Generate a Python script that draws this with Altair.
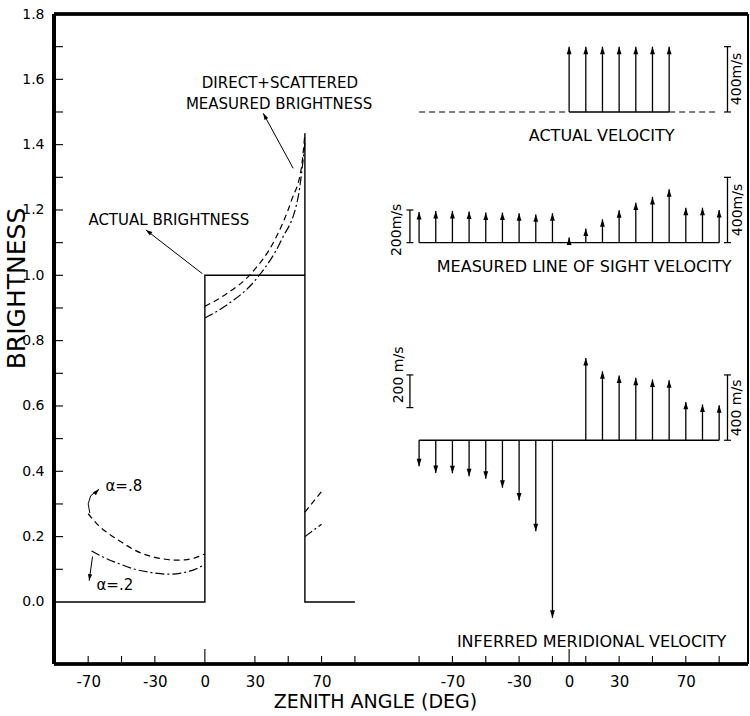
import altair as alt
import pandas as pd

# ---------------- data ----------------
# Left panel: brightness vs zenith angle
actual_angle = [-90, 0, 0, 60, 60, 60, 90]
actual_bright = [0.0, 0.0, 1.0, 1.0, 1.435, 0.0, 0.0]

# measured brightness, alpha = .8 (dashed)
a8_left_angle = [-70, -64, -58, -52, -45, -38, -31, -24, -18, -12, -6, 0]
a8_left = [0.27, 0.235, 0.21, 0.19, 0.167, 0.149, 0.138, 0.131, 0.128, 0.129, 0.135, 0.147]
a8_mid_angle = [0, 12, 28, 42, 52, 58, 60]
a8_mid = [0.905, 0.94, 1.007, 1.109, 1.23, 1.333, 1.435]
a8_right_angle = [60, 70]
a8_right = [0.275, 0.338]

# measured brightness, alpha = .2 (dash-dot)
a2_left_angle = [-68, -60, -52, -42, -32, -22, -8, 0]
a2_left = [0.156, 0.135, 0.118, 0.10, 0.09, 0.085, 0.096, 0.115]
a2_mid_angle = [0, 12, 32, 46, 56, 60]
a2_mid = [0.869, 0.905, 0.996, 1.109, 1.241, 1.405]
a2_right_angle = [60, 70]
a2_right = [0.20, 0.238]

# Right panel: velocities (m/s)
vel_actual_angle = [0, 10, 20, 30, 40, 50, 60]
vel_actual = [400, 400, 400, 400, 400, 400, 400]
vel_los_angle = [-90, -80, -70, -60, -50, -40, -30, -20, -10, 0, 10, 20, 30, 40, 50, 60, 70, 80, 90]
vel_los = [188, 194, 194, 190, 184, 184, 180, 173, 180, 31, 86, 143, 198, 245, 280, 327, 214, 214, 200]
vel_mer_angle = [-90, -80, -70, -60, -50, -40, -30, -20, -10, 10, 20, 30, 40, 50, 60, 70, 80, 90]
vel_mer = [-159, -200, -202, -220, -236, -291, -369, -557, -1087, 504, 422, 396, 382, 372, 367, 235, 219, 214]

panel_keys = ["actual", "los", "mer"]
panel_titles = ["ACTUAL VELOCITY", "MEASURED LINE OF SIGHT VELOCITY", "INFERRED MERIDIONAL VELOCITY"]
panel_base = [1.5, 1.1, 0.495]          # zero-velocity line of each panel (brightness units)
panel_title_angle = [19.5, 9, 13.5]
panel_title_y = [1.426, 1.026, -0.122]

# scale bars of the velocity panels
bar_angle = [95, 95, -95.5, 95, -95.5]
bar_bottom = [1.5, 1.1, 1.1, 0.495, 0.595]
bar_speed = [400, 400, 200, 400, 200]
bar_text = ["400m/s", "400m/s", "200m/s", "400 m/s", "200 m/s"]
bar_text_angle = [100.5, 101.5, -103, 100.7, -102]
bar_text_y = [1.601, 1.2, 1.139, 0.594, 0.695]

# axis ticks
y_labels = [0.0, 0.2, 0.4, 0.6, 0.8, 1.0, 1.2, 1.4, 1.6, 1.8]
y_minor = [0.1, 0.2, 0.3, 0.4, 0.5, 0.6, 0.7, 0.8, 0.9, 1.0, 1.1, 1.2, 1.3, 1.4, 1.5, 1.6, 1.7]
x_labels = [-70, -30, 0, 30, 70]
x_minor_left = [-70, -50, -30, 30, 50, 70, 90]
x_minor_right = [-90, -70, -50, -30, -10, 10, 30, 50, 70, 90]

# annotations
note_text = ["DIRECT+SCATTERED", "MEASURED BRIGHTNESS", "ACTUAL BRIGHTNESS", "\u03b1=.8", "\u03b1=.2"]
note_angle = [45, 44.5, -21.6, -48.6, -54]
note_y = [1.59, 1.524, 1.169, 0.355, 0.052]

ptr_id = ["act", "act", "meas", "meas", "a8", "a8", "a8", "a8", "a2", "a2"]
ptr_angle = [-1.5, -35.4, 53, 35.0, -69.0, -70.0, -68.5, -63.5, -67.4, -69.4]
ptr_y = [1.005, 1.139, 1.3275, 1.496, 0.272, 0.300, 0.325, 0.345, 0.139, 0.065]
head_angle = [-35.4, 35.0, -63.5, -69.4]
head_y = [1.139, 1.496, 0.345, 0.065]
head_rot = [306, 331, 45, 188]

# ---------------- layout helpers ----------------
SHIFT = 218.5        # right-hand panel is drawn on the same axis, shifted by this many degrees
MS_PER_UNIT = 2000   # 400 m/s bar = 0.2 brightness units
W, H = 694, 650
FONT = "DejaVu Sans"

xs = alt.Scale(domain=[-90.5, 325.8], zero=False, nice=False)
ys = alt.Scale(domain=[-0.19, 1.8], zero=False, nice=False)

x_axis = alt.Axis(
    values=x_labels + [v + SHIFT for v in x_labels],
    labelExpr=f"datum.value > 120 ? '' + round(datum.value - {SHIFT}) : '' + round(datum.value)",
    ticks=False, tickSize=0, domain=False, grid=False,
    labelFont=FONT, labelFontSize=15, labelColor="black", labelPadding=10,
    labelFlush=False, labelOverlap=False,
    title="ZENITH ANGLE (DEG)", titleFont=FONT, titleFontSize=19, titleFontWeight="normal",
    titleColor="black", titleX=321, titleY=37, titleAlign="center", titleBaseline="middle",
    titleAnchor="start",
)
y_axis = alt.Axis(
    values=y_labels, format=".1f",
    ticks=False, tickSize=0, domain=False, grid=False,
    labelFont=FONT, labelFontSize=14, labelColor="black", labelPadding=10, labelFlush=False,
    title="BRIGHTNESS", titleFont=FONT, titleFontSize=25, titleFontWeight="normal",
    titleColor="black", titleAngle=270, titleX=-38, titleY=274, titleAlign="center",
    titleBaseline="middle", titleAnchor="start",
)


def X(f="x"):
    return alt.X(f"{f}:Q", scale=xs, axis=x_axis)


def Y(f="y"):
    return alt.Y(f"{f}:Q", scale=ys, axis=y_axis)


# ---------------- tables ----------------
actual_df = pd.DataFrame({"x": actual_angle, "y": actual_bright, "o": range(len(actual_angle))})


def seg_df(pairs):
    rows = []
    for sid, (ang, val) in enumerate(pairs):
        for i, (a, v) in enumerate(zip(ang, val)):
            rows.append({"seg": sid, "o": i, "x": a, "y": v})
    return pd.DataFrame(rows)


a8_df = seg_df([(a8_left_angle, a8_left), (a8_mid_angle, a8_mid), (a8_right_angle, a8_right)])
a2_df = seg_df([(a2_left_angle, a2_left), (a2_mid_angle, a2_mid), (a2_right_angle, a2_right)])

arr_rows = []
for key, base, angs, vels in zip(panel_keys, panel_base,
                                 [vel_actual_angle, vel_los_angle, vel_mer_angle],
                                 [vel_actual, vel_los, vel_mer]):
    for a, v in zip(angs, vels):
        arr_rows.append({"panel": key, "x": a + SHIFT, "y": base, "y1": base + v / MS_PER_UNIT, "v": v})
arr_df = pd.DataFrame(arr_rows)
up_df = arr_df[arr_df.v > 0]
down_df = arr_df[arr_df.v < 0]

base_solid = pd.DataFrame({
    "x": [0 + SHIFT, -90 + SHIFT, -90 + SHIFT],
    "x2": [60 + SHIFT, 90 + SHIFT, 90 + SHIFT],
    "y": [panel_base[0], panel_base[1], panel_base[2]],
})
base_dash = pd.DataFrame({
    "x": [-90 + SHIFT, 60 + SHIFT],
    "x2": [0 + SHIFT, 90 + SHIFT],
    "y": [panel_base[0], panel_base[0]],
})

bar_df = pd.DataFrame({
    "x": [a + SHIFT for a in bar_angle],
    "y": bar_bottom,
    "y1": [b + s / MS_PER_UNIT for b, s in zip(bar_bottom, bar_speed)],
})
bar_caps = pd.DataFrame({
    "x": list(bar_df.x) * 2,
    "y": list(bar_df.y) + list(bar_df.y1),
})
bar_lab = pd.DataFrame({"x": [a + SHIFT for a in bar_text_angle], "y": bar_text_y, "t": bar_text})

title_df = pd.DataFrame({"x": [a + SHIFT for a in panel_title_angle], "y": panel_title_y, "t": panel_titles})
note_df = pd.DataFrame({"x": note_angle, "y": note_y, "t": note_text})
ptr_df = pd.DataFrame({"id": ptr_id, "x": ptr_angle, "y": ptr_y, "o": range(len(ptr_id))})
head_df = pd.DataFrame({"x": head_angle, "y": head_y, "r": head_rot})

xt_df = pd.DataFrame({"x": x_minor_left + [v + SHIFT for v in x_minor_right]})
xt_long = pd.DataFrame({"x": [0, SHIFT]})
yt_df = pd.DataFrame({"y": y_minor})

# ---------------- layers ----------------
UP_HEAD = "M0,0L-0.65,2L0.65,2Z"
DOWN_HEAD = "M0,0L-0.65,-2L0.65,-2Z"

actual_line = alt.Chart(actual_df).mark_line(color="black", strokeWidth=1.4).encode(
    x=X(), y=Y(), order="o:Q")

a8_line = alt.Chart(a8_df).mark_line(color="black", strokeWidth=1.2, strokeDash=[6, 4],
                                     interpolate="monotone").encode(
    x=X(), y=Y(), detail="seg:N", order="o:Q")
a2_line = alt.Chart(a2_df).mark_line(color="black", strokeWidth=1.2, strokeDash=[9, 3, 2, 3],
                                     interpolate="monotone").encode(
    x=X(), y=Y(), detail="seg:N", order="o:Q")

shafts = alt.Chart(arr_df).mark_rule(color="black", strokeWidth=1.3).encode(
    x=X(), y=Y(), y2="y1:Q")
up_heads = alt.Chart(up_df).mark_point(shape=UP_HEAD, size=56, filled=True, color="black",
                                       opacity=1).encode(x=X(), y=Y("y1"))
down_heads = alt.Chart(down_df).mark_point(shape=DOWN_HEAD, size=56, filled=True, color="black",
                                           opacity=1).encode(x=X(), y=Y("y1"))

bl_solid = alt.Chart(base_solid).mark_rule(color="black", strokeWidth=1.4).encode(
    x=X(), x2="x2:Q", y=Y())
bl_dash = alt.Chart(base_dash).mark_rule(color="black", strokeWidth=1.2, strokeDash=[6, 4]).encode(
    x=X(), x2="x2:Q", y=Y())

bars = alt.Chart(bar_df).mark_rule(color="black", strokeWidth=1.3).encode(x=X(), y=Y(), y2="y1:Q")
caps = alt.Chart(bar_caps).mark_tick(orient="horizontal", size=7, thickness=1.2, color="black",
                                     opacity=1).encode(x=X(), y=Y())
bar_text_l = alt.Chart(bar_lab).mark_text(font=FONT, fontSize=14, angle=270, color="black",
                                          baseline="middle", align="center").encode(
    x=X(), y=Y(), text="t:N")

titles = alt.Chart(title_df).mark_text(font=FONT, fontSize=16, color="black",
                                       baseline="middle", align="center").encode(
    x=X(), y=Y(), text="t:N")
notes = alt.Chart(note_df).mark_text(font=FONT, fontSize=15, color="black",
                                     baseline="middle", align="center").encode(
    x=X(), y=Y(), text="t:N")
pointers = alt.Chart(ptr_df).mark_line(color="black", strokeWidth=1.0).encode(
    x=X(), y=Y(), detail="id:N", order="o:Q")
pointer_heads = alt.Chart(head_df).mark_point(shape=UP_HEAD, size=42, filled=True, color="black",
                                              opacity=1).encode(
    x=X(), y=Y(), angle=alt.Angle("r:Q", scale=None))

# frame and inward ticks
frame_left = alt.Chart(actual_df).mark_rule(color="black", strokeWidth=3).encode(
    x=alt.value(0), y=alt.value(0), y2=alt.value(H))
frame_bottom = alt.Chart(actual_df).mark_rule(color="black", strokeWidth=2.5).encode(
    x=alt.value(0), x2=alt.value(W), y=alt.value(H))
frame_top = alt.Chart(actual_df).mark_rule(color="black", strokeWidth=2.5).encode(
    x=alt.value(0), x2=alt.value(W), y=alt.value(0))
frame_right = alt.Chart(actual_df).mark_rule(color="black", strokeWidth=1).encode(
    x=alt.value(W), y=alt.value(0), y2=alt.value(H))

x_ticks = alt.Chart(xt_df).mark_rule(color="black", strokeWidth=1.1).encode(
    x=X(), y=alt.value(H), y2=alt.value(H - 8))
x_ticks_long = alt.Chart(xt_long).mark_rule(color="black", strokeWidth=1.1).encode(
    x=X(), y=alt.value(H), y2=alt.value(H - 15))
y_ticks = alt.Chart(yt_df).mark_rule(color="black", strokeWidth=1.1).encode(
    y=Y(), x=alt.value(0), x2=alt.value(9))

chart = alt.layer(
    actual_line, a8_line, a2_line,
    shafts, up_heads, down_heads, bl_solid, bl_dash,
    bars, caps, bar_text_l, titles, notes, pointers, pointer_heads,
    x_ticks, x_ticks_long, y_ticks,
    frame_left, frame_bottom, frame_top, frame_right,
).properties(
    width=W, height=H,
    autosize=alt.AutoSizeParams(type="none"),
    padding={"left": 54, "top": 14, "right": 2, "bottom": 52},
    background="white",
).configure_view(stroke=None)

chart.save("out.html", embed_options={"renderer": "svg", "actions": False})
